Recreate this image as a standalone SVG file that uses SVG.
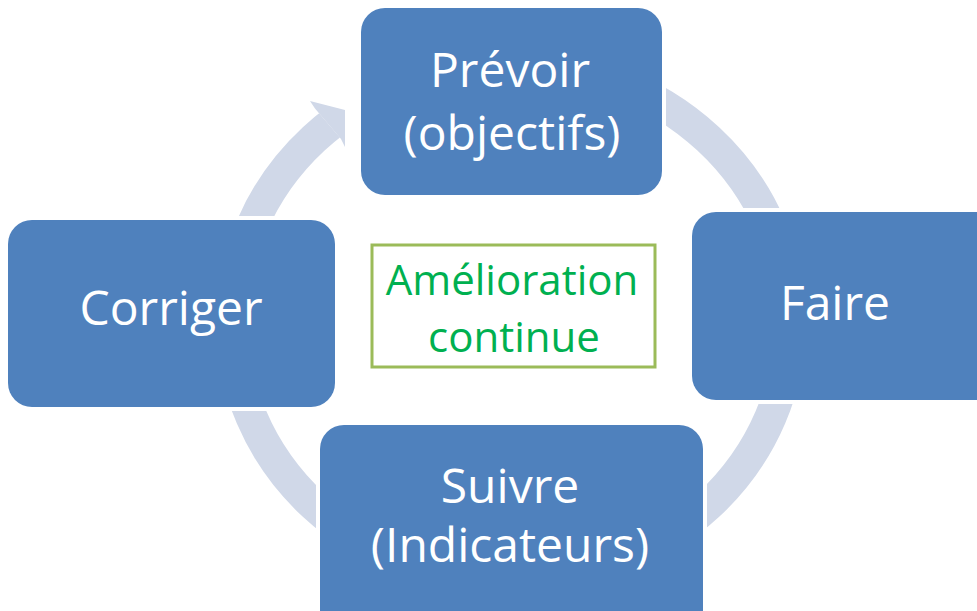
<svg xmlns="http://www.w3.org/2000/svg" width="977" height="611" viewBox="0 0 977 611">
<style>
.box{fill:#4f81bd;stroke:#ffffff;stroke-width:8;paint-order:stroke}
.lbl{font-family:"Open Sans","Noto Sans","Liberation Sans",sans-serif;font-size:48px;fill:#ffffff;text-anchor:middle}
.ctr{font-family:"Open Sans","Noto Sans","Liberation Sans",sans-serif;font-size:42px;fill:#00b050;text-anchor:middle}
.ring{fill:none;stroke:#d0d8e8;stroke-width:32}
</style>
<defs>
<mask id="cut" maskUnits="userSpaceOnUse" x="0" y="0" width="977" height="611">
<rect x="0" y="0" width="977" height="611" fill="#ffffff"/>
<polygon points="289,78 354,154 370,154 370,30 289,30" fill="#000000"/>
</mask>
</defs>
<rect x="0" y="0" width="977" height="611" fill="#ffffff"/>
<g id="connectors">
<ellipse class="ring" cx="511" cy="322" rx="279" ry="259" mask="url(#cut)"/>
<polygon points="310,101 345,110 345,147 341,139 315,108.5" fill="#d0d8e8"/>
</g>
<g id="node-prevoir">
<rect class="box" x="361" y="8" width="301" height="187" rx="24"/>
<text class="lbl" x="510" y="87">Prévoir</text>
<text class="lbl" x="512" y="150">(objectifs)</text>
</g>
<g id="node-faire">
<rect class="box" x="692" y="212" width="310" height="188" rx="24"/>
<text class="lbl" x="835" y="320">Faire</text>
</g>
<g id="node-suivre">
<rect class="box" x="320" y="425" width="383" height="215" rx="24"/>
<text class="lbl" x="510" y="503">Suivre</text>
<text class="lbl" x="510" y="562">(Indicateurs)</text>
</g>
<g id="node-corriger">
<rect class="box" x="8" y="220" width="327" height="187" rx="24"/>
<text class="lbl" x="171" y="325">Corriger</text>
</g>
<g id="node-center">
<rect x="372" y="245" width="283" height="122" fill="#ffffff" stroke="#9bbb59" stroke-width="3"/>
<text class="ctr" x="512" y="295">Amélioration</text>
<text class="ctr" x="514" y="352">continue</text>
</g>
</svg>
